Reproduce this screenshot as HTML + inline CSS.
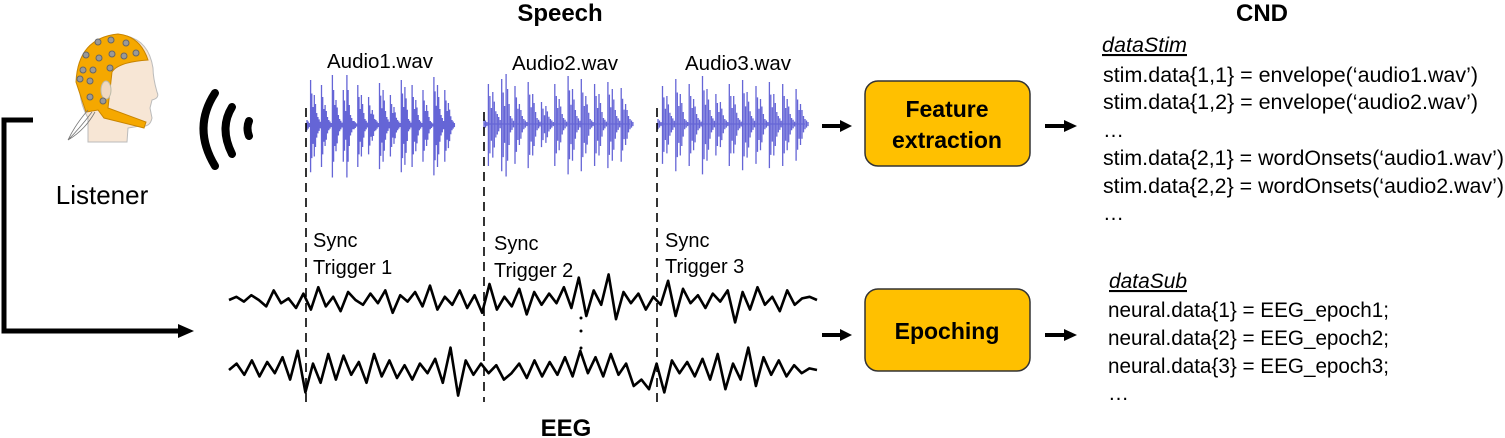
<!DOCTYPE html>
<html><head><meta charset="utf-8"><style>
body{margin:0;width:1505px;height:438px;background:#fff;overflow:hidden}
svg{display:block}
text{font-family:"Liberation Sans",sans-serif;fill:#000}
</style></head><body>
<svg id="s" width="1505" height="438" viewBox="0 0 1505 438">
<text x="560" y="21" font-size="24" font-weight="bold" text-anchor="middle">Speech</text>
<text x="1262" y="21" font-size="24" font-weight="bold" text-anchor="middle">CND</text>
<text x="566" y="436" font-size="24" font-weight="bold" text-anchor="middle">EEG</text>

<g>
<path d="M80 80 Q80 38 118 35 Q148 36 153 68 Q153 78 157 92 Q160 98 152 100 L150 108 L152 118 Q150 128 140 126 L128 128 L127 142 L88 142 L88 118 Q78 100 80 80Z" fill="#f7e6d5" stroke="#bbb"/>
<path d="M76 82 Q78 38 118 34 Q140 36 148 60 Q118 62 112 72 L108 108 L146 122 L144 128 L104 118 L98 110 L86 112 Z" fill="#f5a800" stroke="#c88400"/>
<ellipse cx="106" cy="90" rx="5" ry="9" fill="#f0d8c0" stroke="#bba"/>
<g fill="#999" stroke="#666" stroke-width="1">
<circle cx="98" cy="42" r="3"/><circle cx="111" cy="40" r="3"/><circle cx="126" cy="43" r="3"/><circle cx="136" cy="53" r="3"/><circle cx="86" cy="55" r="3"/><circle cx="99" cy="58" r="3"/><circle cx="112" cy="54" r="3"/><circle cx="124" cy="56" r="3"/><circle cx="83" cy="70" r="3"/><circle cx="93" cy="70" r="3"/><circle cx="110" cy="68" r="3"/><circle cx="80" cy="79" r="3"/><circle cx="90" cy="81" r="3"/><circle cx="90" cy="97" r="3"/><circle cx="103" cy="101" r="3"/></g>
<path d="M88 110 Q75 125 68 140 M92 112 Q80 128 68 140 M95 112 Q85 130 68 140" stroke="#777" fill="none" stroke-width="0.8"/>
</g>
<text x="102" y="204" font-size="26" text-anchor="middle">Listener</text>
<g fill="none" stroke="#000" stroke-width="8" stroke-linecap="round">
<path d="M215 93 Q192 128 215 166"/><path d="M232 107 Q219 128 232 154"/><path d="M249 121 Q246 128 249 136"/></g>

<path d="M33 120 H4 V331 H180" fill="none" stroke="#000" stroke-width="5"/>
<polygon points="178,324 194,331 178,338" fill="#000"/>

<text x="380" y="68" font-size="20.5" text-anchor="middle">Audio1.wav</text>
<text x="565" y="70" font-size="20.5" text-anchor="middle">Audio2.wav</text>
<text x="738" y="70" font-size="20.5" text-anchor="middle">Audio3.wav</text>
<g id="audio"></g>

<g stroke="#000" stroke-width="1.6" stroke-dasharray="9,6">
<line x1="306" y1="108" x2="306" y2="402"/><line x1="484" y1="112" x2="484" y2="402"/><line x1="657" y1="108" x2="657" y2="402"/></g>
<g font-size="20">
<text x="313" y="247">Sync</text><text x="313" y="274">Trigger 1</text>
<text x="494" y="250">Sync</text><text x="494" y="277">Trigger 2</text>
<text x="665" y="247">Sync</text><text x="665" y="273">Trigger 3</text></g>
<g id="eeg"></g>
<g fill="#000"><circle cx="581" cy="318" r="1.5"/><circle cx="581" cy="331" r="1.5"/><circle cx="581" cy="348" r="1.5"/></g>

<g>
<rect x="865" y="81" width="165" height="85" rx="13" fill="#ffc000" stroke="#333" stroke-width="1.5"/>
<text x="947" y="117" font-size="23" font-weight="bold" text-anchor="middle">Feature</text>
<text x="947" y="148" font-size="23" font-weight="bold" text-anchor="middle">extraction</text></g>
<g>
<rect x="865" y="289" width="165" height="82" rx="13" fill="#ffc000" stroke="#333" stroke-width="1.5"/>
<text x="947" y="339" font-size="23" font-weight="bold" text-anchor="middle">Epoching</text></g>
<g stroke="#000" stroke-width="4" fill="#000">
<line x1="822" y1="126" x2="842" y2="126"/><polygon points="840,120 852,126 840,132" stroke="none"/>
<line x1="1045" y1="126" x2="1066" y2="126"/><polygon points="1064,120 1077,126 1064,132" stroke="none"/>
<line x1="822" y1="335" x2="842" y2="335"/><polygon points="840,329 852,335 840,341" stroke="none"/>
<line x1="1045" y1="335" x2="1066" y2="335"/><polygon points="1064,329 1077,335 1064,341" stroke="none"/></g>

<g font-size="21">
<text x="1102" y="52" font-style="italic" text-decoration="underline" textLength="85" lengthAdjust="spacingAndGlyphs">dataStim</text>
<text x="1103" y="82" textLength="375" lengthAdjust="spacingAndGlyphs">stim.data{1,1} = envelope(‘audio1.wav’)</text>
<text x="1103" y="109" textLength="375" lengthAdjust="spacingAndGlyphs">stim.data{1,2} = envelope(‘audio2.wav’)</text>
<text x="1103" y="137">…</text>
<text x="1103" y="165" textLength="401" lengthAdjust="spacingAndGlyphs">stim.data{2,1} = wordOnsets(‘audio1.wav’)</text>
<text x="1103" y="193" textLength="401" lengthAdjust="spacingAndGlyphs">stim.data{2,2} = wordOnsets(‘audio2.wav’)</text>
<text x="1103" y="220">…</text></g>
<g font-size="21">
<text x="1109" y="288" font-style="italic" text-decoration="underline" textLength="78" lengthAdjust="spacingAndGlyphs">dataSub</text>
<text x="1108" y="317" textLength="281" lengthAdjust="spacingAndGlyphs">neural.data{1} = EEG_epoch1;</text>
<text x="1108" y="345" textLength="281" lengthAdjust="spacingAndGlyphs">neural.data{2} = EEG_epoch2;</text>
<text x="1108" y="373" textLength="281" lengthAdjust="spacingAndGlyphs">neural.data{3} = EEG_epoch3;</text>
<text x="1108" y="400">…</text></g>
</svg>
<script>
const amp1=[5,45,30,8,40,20,5,50,25,6,35,50,10,4,40,30,6,28,15,5,42,35,8,30,18,5,45,38,6,40,25,5,35,20,4,48,40,10,35,22,5];
const amp2=[5,40,32,10,45,50,8,38,20,5,42,30,6,22,18,5,40,25,6,48,35,8,45,28,5,40,30,6,42,35,8,36,20,5];
const amp3=[5,38,28,8,45,30,5,40,25,6,48,35,8,30,22,5,40,28,6,44,32,8,38,25,5,42,30,8,40,25,6,35,20,5];
const ns="http://www.w3.org/2000/svg";
const ag=document.getElementById('audio');
function wave(a,x0,x1,cy){
 const step=(x1-x0)/(a.length-1);
 let d="";
 a.forEach((v,i)=>{const x=x0+i*step;for(let k=0;k<3;k++){const xx=x+k*step/3;const h=v*(1-k*0.3);d+=`M${xx.toFixed(1)} ${cy-h} V${cy+h*1.05} `;}});
 const p=document.createElementNS(ns,'path');
 p.setAttribute('d',d+`M${x0} ${cy} H${x1}`);p.setAttribute('stroke','#4b4bd0');p.setAttribute('stroke-width','1.3');p.setAttribute('opacity','0.85');
 
 
 ag.appendChild(p);}
wave(amp1,307,452,125);wave(amp2,484,630,124);wave(amp3,658,805,124);
const eeg1=[0,2,-1,3,0,-4,6,-2,1,-5,4,-6,8,-4,2,-7,5,0,-3,4,-2,6,-8,3,-1,5,-4,9,-6,2,-3,6,-5,3,-8,10,-6,2,-4,7,-9,5,-3,4,-2,8,-5,14,-10,6,-3,16,-12,5,-2,4,-6,2,-3,12,-10,7,-2,3,-5,4,-1,6,-14,5,-6,8,-3,2,-7,6,-3,1,2,0];
const eeg2=[0,4,-3,6,-4,5,-2,8,-6,12,-14,4,-8,10,-6,9,-3,5,-8,10,-4,6,-5,3,-6,4,-2,7,-8,14,-16,6,-3,4,-2,3,-6,-2,4,-5,6,-4,5,-3,8,-4,12,-2,8,-4,10,-3,4,-10,-6,-12,4,-14,6,-2,5,-4,7,-6,10,-12,4,-6,14,-10,8,-3,6,-4,3,-2,1,0];
const eg=document.getElementById('eeg');
function trace(a,x0,x1,cy){
 const step=(x1-x0)/(a.length-1);
 const pts=a.map((v,i)=>`${(x0+i*step).toFixed(1)},${cy-v*1.6}`).join(' ');
 const p=document.createElementNS(ns,'polyline');
 p.setAttribute('points',pts);p.setAttribute('fill','none');p.setAttribute('stroke','#000');p.setAttribute('stroke-width','2.6');p.setAttribute('stroke-linejoin','round');
 
 
 eg.appendChild(p);}
trace(eeg1,229,817,300);trace(eeg2,229,817,370);
</script>
</body></html>
